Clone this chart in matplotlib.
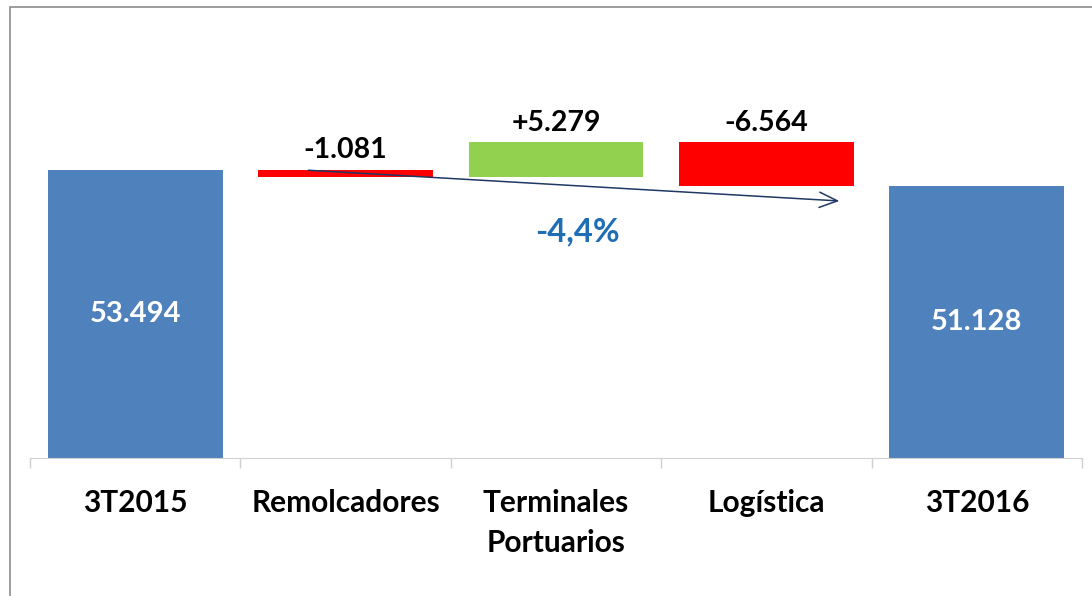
import matplotlib.pyplot as plt
from matplotlib.patches import Rectangle

# data
categories = ['3T2015', 'Remolcadores', 'Terminales\nPortuarios', 'Logística', '3T2016']
start_value = 53.494
changes = [-1.081, 5.279, -6.564]
end_value = 51.128
change_labels = ['-1.081', '+5.279', '-6.564']
total_labels = ['53.494', '51.128']
pct_label = '-4,4%'

blue = '#4F81BD'
red = '#FF0000'
green = '#92D050'

plt.rcParams['font.family'] = ['Lato', 'DejaVu Sans']

fig = plt.figure(figsize=(10.92, 5.96), dpi=100)
W, H = 1092, 596
ax = fig.add_axes([30 / W, (H - 458) / H, (1082 - 30) / W, (458 - 20) / H])

ymin = 10
ax.set_ylim(ymin, ymin + (458 - 20) / 6.62)
ax.set_xlim(-0.5, 4.5)
bw = 0.83

# totals
ax.bar(0, start_value - ymin, bottom=ymin, width=bw, color=blue)
ax.bar(4, end_value - ymin, bottom=ymin, width=bw, color=blue)
ax.text(0, (start_value + ymin) / 2, total_labels[0], ha='center', va='center',
        color='white', fontsize=21, fontweight='bold')
ax.text(4, (end_value + ymin) / 2, total_labels[1], ha='center', va='center',
        color='white', fontsize=21, fontweight='bold')

# floating changes
level = start_value
for i, (c, lab) in enumerate(zip(changes, change_labels), start=1):
    lo, hi = min(level, level + c), max(level, level + c)
    ax.bar(i, hi - lo, bottom=lo, width=bw, color=green if c > 0 else red)
    ax.text(i, hi + 1.0, lab, ha='center', va='bottom', fontsize=20.5, fontweight='bold')
    level += c

# trend arrow
ax.annotate('', xy=(3.36, 48.8), xytext=(0.81, start_value),
            arrowprops=dict(arrowstyle='->,head_length=1.3,head_width=0.55',
                            color='#1F3864', lw=1.1))
ax.text(2.1, 44.1, pct_label, ha='center', va='center', color='#1F6EB4',
        fontsize=23.5, fontweight='bold')

# axes styling
for s in ['top', 'right', 'left']:
    ax.spines[s].set_visible(False)
ax.spines['bottom'].set_color('#D0D0D0')
ax.set_yticks([])
ax.set_xticks(range(len(categories)))
ax.set_xticklabels(categories, fontsize=21.5, fontweight='bold', linespacing=1.55)
ax.tick_params(axis='x', length=0, pad=22)
ax.set_xticks([i + 0.5 for i in range(-1, 5)], minor=True)
ax.tick_params(axis='x', which='minor', length=7, color='#D0D0D0', width=1)

# outer frame
fig.add_artist(Rectangle((10 / W, -0.02), 1.1, (H - 7) / H + 0.02, transform=fig.transFigure,
                         fill=False, edgecolor='#8C8C8C', lw=1.2))

fig.savefig('out.png', dpi=100)
